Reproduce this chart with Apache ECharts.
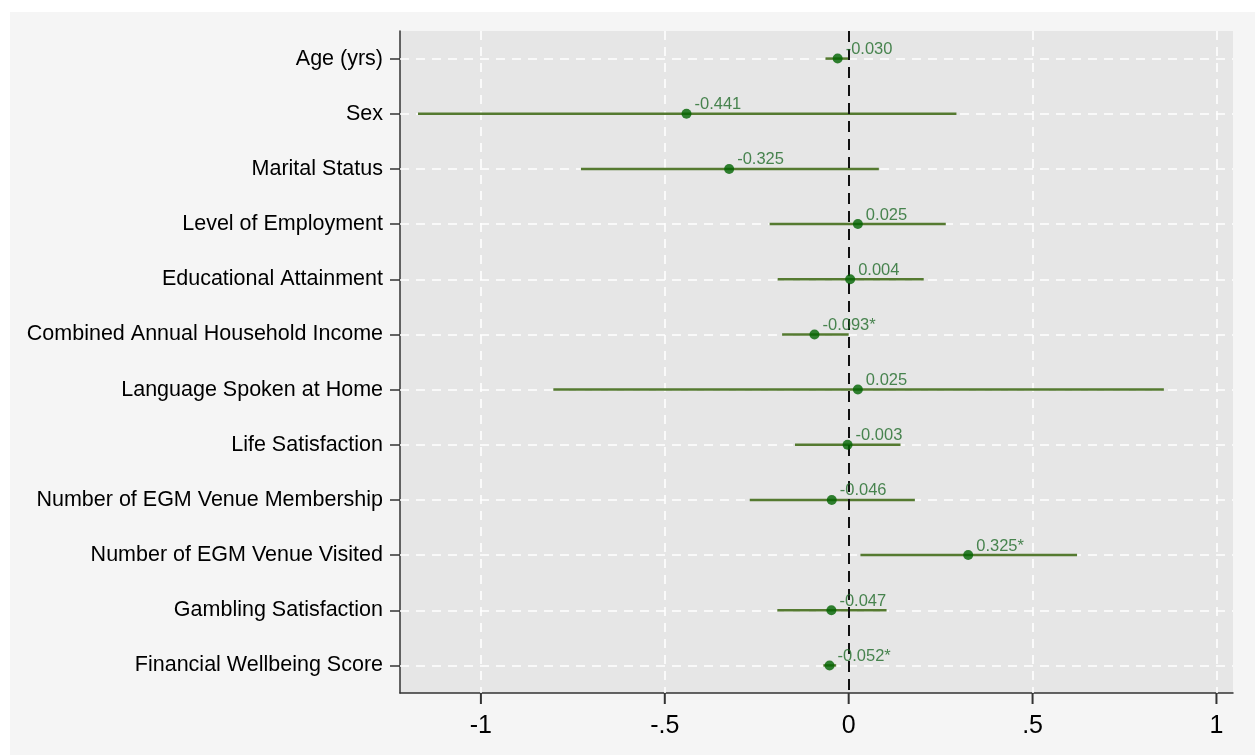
<!DOCTYPE html>
<html>
<head>
<meta charset="utf-8">
<script src="https://cdn.jsdelivr.net/npm/echarts@6/dist/echarts.min.js"></script>
<style>
html,body{margin:0;padding:0;background:#ffffff;}
#bg{position:absolute;left:10px;top:12px;width:1245px;height:743px;background:#f5f5f5;}
#chart{position:absolute;left:0;top:0;width:1258px;height:755px;}
</style>
</head>
<body>
<div id="bg"></div>
<div id="chart"></div>
<script>
const categories = [
  'Age (yrs)', 'Sex', 'Marital Status', 'Level of Employment', 'Educational Attainment',
  'Combined Annual Household Income', 'Language Spoken at Home', 'Life Satisfaction',
  'Number of EGM Venue Membership', 'Number of EGM Venue Visited', 'Gambling Satisfaction',
  'Financial Wellbeing Score'
];
const estimates = [-0.030, -0.441, -0.325, 0.025, 0.004, -0.093, 0.025, -0.003, -0.046, 0.325, -0.047, -0.052];
const ciLower   = [-0.063, -1.171, -0.728, -0.215, -0.193, -0.181, -0.803, -0.146, -0.269, 0.032, -0.194, -0.069];
const ciUpper   = [0.003, 0.293, 0.082, 0.264, 0.204, 0.000, 0.857, 0.141, 0.180, 0.621, 0.103, -0.034];
const stars     = ['', '', '', '', '', '*', '', '', '', '*', '', '*'];
const xTickValues = [-1, -0.5, 0, 0.5, 1];
const xTickLabels = ['-1', '-.5', '0', '.5', '1'];

const FONT = '"Liberation Sans", Arial, sans-serif';
const GRID = {left: 400, right: 25, top: 31, bottom: 62};
const chart = echarts.init(document.getElementById('chart'), null, {renderer: 'canvas'});

const vGrid = xTickValues.filter(v => v !== 0).map(v => ({xAxis: v}));
const hGrid = categories.map(c => ({yAxis: c}));

const option = {
  animation: false,
  backgroundColor: 'transparent',
  grid: Object.assign({show: true, backgroundColor: '#e6e6e6', borderWidth: 0}, GRID),
  xAxis: {
    type: 'value', min: -1.22, max: 1.045,
    axisLine: {show: true, onZero: false, lineStyle: {color: '#333', width: 1.5}},
    axisTick: {show: false},
    axisLabel: {
      customValues: xTickValues, margin: 21, fontSize: 25, color: '#000', fontFamily: FONT,
      formatter: v => { const i = xTickValues.findIndex(t => Math.abs(t - v) < 1e-9); return i >= 0 ? xTickLabels[i] : ''; }
    },
    splitLine: {show: false}
  },
  yAxis: {
    type: 'category', data: categories, inverse: true, boundaryGap: true,
    axisLine: {show: true, onZero: false, lineStyle: {color: '#333', width: 1.5}},
    axisTick: {show: true, alignWithLabel: true, length: 10, lineStyle: {color: '#333', width: 1.5}},
    axisLabel: {margin: 17, fontSize: 21.5, color: '#000', fontFamily: FONT},
    splitLine: {show: false}
  },
  series: [
    {
      name: 'gridlines', type: 'line', data: [], z: 1,
      markLine: {
        silent: true, symbol: 'none', z: 1, animation: false,
        label: {show: false},
        lineStyle: {color: '#ffffff', type: [9, 7], width: 1.6},
        data: vGrid.concat(hGrid)
      }
    },
    {
      name: 'ci', type: 'custom', z: 2,
      data: categories.map((c, i) => [ciLower[i], ciUpper[i], i]),
      encode: {x: [0, 1], y: 2},
      renderItem: (params, api) => {
        const a = api.coord([api.value(0), api.value(2)]);
        const b = api.coord([api.value(1), api.value(2)]);
        return {type: 'line', shape: {x1: a[0], y1: a[1], x2: b[0], y2: b[1]},
                style: {stroke: '#557a30', lineWidth: 2.5}};
      }
    },
    {
      name: 'zero', type: 'line', data: [], z: 3,
      markLine: {
        silent: true, symbol: 'none', z: 3, animation: false,
        label: {show: false},
        lineStyle: {color: '#111111', type: [11, 7], width: 2},
        data: [{xAxis: 0}]
      }
    },
    {
      name: 'estimate', type: 'scatter', z: 4,
      symbol: 'circle', symbolSize: 10,
      itemStyle: {color: '#006400'},
      data: estimates.map((v, i) => [v, i]),
      label: {
        show: true, position: 'right', distance: 3, offset: [0, -9],
        fontSize: 16.5, color: '#1f6a28', fontFamily: FONT,
        formatter: p => estimates[p.dataIndex].toFixed(3) + stars[p.dataIndex]
      }
    }
  ]
};
chart.setOption(option);

// x-axis tick marks, positioned through the axis scale
const yBottom = 755 - GRID.bottom;
const tickEls = xTickValues.map(v => {
  const x = Number(chart.convertToPixel({xAxisIndex: 0}, v));
  return {type: 'rect', silent: true, z: 100,
          shape: {x: x - 1, y: yBottom, width: 2, height: 11},
          style: {fill: '#333333'}};
});
chart.setOption({graphic: {elements: tickEls}});
</script>
</body>
</html>
